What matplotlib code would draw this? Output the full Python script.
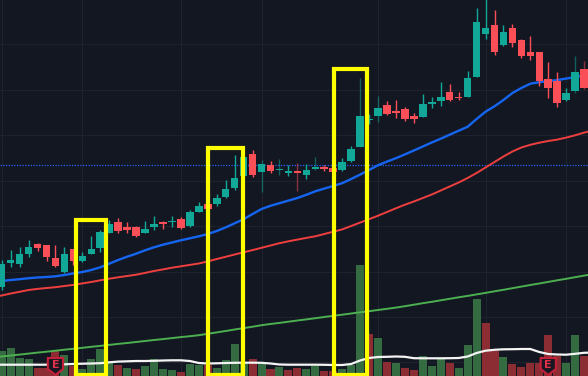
import matplotlib
matplotlib.use("Agg")
import matplotlib.pyplot as plt
import numpy as np
from matplotlib.patches import Polygon, Rectangle

opens = [287, 263.3, 264, 253.7, 244.3, 245.3, 258, 272, 249, 261, 253.7, 248.3, 232.7, 222.3, 227.3, 227, 233.3, 227.3, 222,
         221.7, 219, 226, 212, 204, 204, 197.3, 188.3, 175.7, 154, 171.7, 165, 170.3, 172.7, 171.3, 175, 169.3, 167, 168,
         170.3, 160.7, 147, 120, 116, 105, 111, 109.3, 116, 116.7, 103.7, 101, 92.3, 97, 97.3, 77, 34.3, 25.3, 45, 27.7,
         40, 52.3, 52.3, 79, 81, 100, 90.7, 69.3]
closes = [264, 260.3, 254.3, 247, 248, 257.3, 266, 253.7, 261, 256, 249, 232, 224.3, 230.7, 229.7, 235.7, 229, 224, 224,
          220.7, 228, 212, 206, 208.7, 198, 189.3, 178.3, 157.3, 175, 164.3, 170.7, 169.3, 171.3, 172.7, 170.3, 167.3, 169.3, 171.7,
          162.3, 149.3, 116, 118.5, 107.7, 114.3, 112.7, 119.3, 119.3, 104.3, 102, 97, 100, 97.7, 78, 22.3, 28.3, 52.3, 31.7, 43.3,
          56, 56, 81, 87.7, 102.7, 93, 72, 87.7]
highs = [260, 250, 246.7, 240, 243.3, 245.3, 245.3, 247.3, 249, 251.7, 235.7, 230, 220, 218.3, 222, 226.3, 220.7, 216, 220.7,
         216, 217.3, 210, 201.7, 204, 194, 180, 155, 157.3, 150, 160, 160.7, 159, 165, 163, 164.3, 157.3, 165, 168,
         158, 146, 78, 114, 96, 101, 100, 106.7, 113, 94, 97, 82, 84, 92.3, 70.7, 8, -2, 10, 25.3, 24,
         39, 36, 52.3, 62, 72, 88, 56, 61]
lows = [290, 266.7, 266.7, 256.7, 250.7, 260.7, 266.7, 273.3, 265, 262, 253.7, 251.7, 233, 233.3, 233.3, 236.7, 233.3, 230, 229.3,
        226.7, 228.7, 226.7, 212, 209, 206, 198.3, 190, 176, 176.7, 191.7, 173.3, 175, 176, 191, 178.7, 170, 170.7, 172,
        171, 161.7, 147, 124, 121.7, 115.3, 117.7, 120.7, 122.7, 116.7, 107.7, 105.7, 101, 100, 97.3, 77, 39, 55.3, 45.7, 46.7,
        58, 60, 85.7, 98.3, 107.3, 100.7, 92.7, 89.3]
dim_wicks = [29, 31, 33, 35, 40, 42, 64, 65]

vol_tops = [351, 348, 358, 359, 367.7, 368, 351, 355, 366, 369, 359, 349, 363, 365, 367.7, 369, 366.3, 359.3, 369, 369.7, 372, 364,
            365, 365, 367.7, 360, 344.3, 363, 359.3, 363.3, 369, 367, 370, 367.7, 369, 366, 371, 371, 369, 365.3, 265.3, 334,
            338.3, 362.3, 363.3, 368.3, 370, 356, 366, 358.7, 363, 367.7, 345, 298.7, 322.7, 351, 356.7, 363.7, 367, 362.7, 362.7, 335,
            356, 363, 335, 356]
vol_dirs = ("gggg" "rrr" "g" "r" "gggg" "r" "g" "r" "gggg" "r" "gg" "r" "gggg" "r" "g" "r" "g" "rr" "gg" "rr" "ggg"
            "r" "g" "r" "g" "rr" "ggg" "r" "ggg" "rr" "g" "rrrrrr" "gg" "r")

blue_ma = [281.5, 281, 280, 279.2, 278.2, 277.5, 277, 276.3, 275, 273.4, 272, 270, 267.3, 263.7, 260, 256.7, 253.7, 250.3, 247.3, 244.7,
           242.5, 240.3, 238.3, 236.3, 234, 231, 227.4, 223.3, 219.2, 214, 209, 205.8, 203.2, 200.6, 198, 194.8, 191.3, 188.6,
           186, 183.2, 179, 174.6, 170, 165.2, 161.6, 158.2, 154.4, 150.5, 146.5, 142.5, 138.7, 134.7, 130.7, 126.8, 119, 111.7, 106.3,
           100, 93, 88, 83.7, 82.2, 81.2, 80, 78.6, 77, 75.6, 74.5]
red_ma = [297, 295.5, 293.5, 291.8, 290, 288.9, 288, 287.2, 286, 284.9, 283.4, 282, 280.3, 278.7, 277.3, 276, 274.7, 272.9, 271, 269.4,
          267.7, 266.3, 264.9, 263.5, 261.4, 259, 256.8, 254.5, 252.3, 250.1, 247.8, 245.5, 243.2, 241.3, 239.6, 237.9, 236.3, 234,
          231.7, 229.4, 226, 222.6, 219.2, 215.7, 212, 208.3, 204.7, 201.5, 198, 194.5, 190.5, 186.5, 182.5, 178, 173, 167.5, 162,
          156.5, 151.5, 147.5, 144.8, 142.7, 141, 139.6, 137.6, 135.3, 132.6, 130.5]
green_ma = [357.5, 356.5, 355.5, 354.6, 353.6, 352.6, 351.7, 350.7, 349.7, 348.8, 347.8, 346.8, 345.9, 344.9, 343.9, 343, 342, 341, 340, 339.1,
            338.1, 337.1, 336.2, 335.2, 333.8, 332.4, 331, 329.5, 328.1, 326.7, 325.2, 324, 322.9, 321.7, 320.5, 319.4, 318.2, 317,
            315.8, 314.7, 313.5, 312.3, 311.2, 310, 308.8, 307.6, 306.2, 304.7, 303.2, 301.8, 300.3, 298.8, 297.3, 295.9, 294.4, 292.9, 291.3,
            289.8, 288.2, 286.6, 285, 283.5, 281.9, 280.3, 278.8, 277.2, 275.6, 274]
vol_ma = [364.7, 364.7, 364.7, 364.7, 364.7, 364.7, 364.7, 364.7, 364.3, 364, 363.7, 363.5, 363.2, 362.3, 361.6, 361.3, 361, 361, 360.8, 360.5,
          360.3, 360.3, 361, 363, 363.5, 363.3, 363, 362.8, 362.7, 362.7, 362.8, 363.5, 364.5, 364.7, 364.7, 364.7, 364.7, 364.8,
          365, 365, 364, 360.5, 358, 357, 356.8, 356.5, 356.8, 358.2, 358.3, 358.3, 358.3, 358.2, 358, 356.5, 353, 350.7, 349.8,
          349.3, 349.2, 349, 349, 352, 354, 354.5, 354.7, 353.8, 352.8, 352.5]

earnings_idx = [6, 61]
highlight_boxes = [(8.3, 11.6, 219.5), (23, 26.9, 148), (37.1, 40.8, 68.5)]

BG = "#131722"
UP = "#12a898"
DOWN = "#fb4f58"

n = len(opens)
idx = np.arange(n)
ma_idx = np.arange(-1, n + 1)

fig = plt.figure(figsize=(5.88, 3.76), dpi=100, facecolor=BG)
ax = fig.add_axes([0, 0, 1, 1], facecolor=BG)
ax.set_xlim(-1.7 / 8.96, (588 - 1.7) / 8.96)
ax.set_ylim(376, 0)
ax.axis("off")

# faint chart grid
for gx in [0, 9, 20, 29, 42, 54, 63]:
    ax.axvline(gx, color="#1f232e", lw=0.8, zorder=1)
for gy in [44, 90, 135, 181, 226, 272, 317, 362]:
    ax.axhline(gy, color="#1e222d", lw=0.8, zorder=1)
ax.axhline(165, color="#2962ff", lw=0.9, ls=(0, (1, 1.2)), zorder=2)

# volume histogram
vol_colors = ["#346b40" if d == "g" else "#8b2d33" for d in vol_dirs]
ax.bar(idx, [376 - v for v in vol_tops], bottom=vol_tops, width=0.9, color=vol_colors, zorder=3)

# moving averages
ax.plot(ma_idx, blue_ma, color="#1565f0", lw=1.7, zorder=6)
ax.plot(ma_idx, red_ma, color="#ef3f3f", lw=1.4, zorder=6)
ax.plot(ma_idx, green_ma, color="#4caf50", lw=1.4, zorder=4)
ax.plot(ma_idx, vol_ma, color="#f4f4f4", lw=1.6, zorder=5)

# candles
for i in idx:
    color = UP if closes[i] < opens[i] else DOWN
    wick_alpha = 0.5 if i in dim_wicks else 1.0
    ax.vlines(i, highs[i], lows[i], color=color, lw=1.0, alpha=wick_alpha, zorder=7)
    top, bottom = min(opens[i], closes[i]), max(opens[i], closes[i])
    ax.bar(i, bottom - top, bottom=top, width=0.84, color=color, zorder=8)

# earnings markers
for i in earnings_idx:
    w = 0.85
    shield = Polygon([(i - w, 358), (i + w, 358), (i + w, 369), (i, 375), (i - w, 369)], closed=True,
                     facecolor="#1b1722", edgecolor="#c5213a", lw=1.5, zorder=9)
    ax.add_patch(shield)
    ax.text(i, 365, "E", color="#e0304a", fontsize=8, fontweight="bold", ha="center", va="center", zorder=10)

# yellow highlight boxes
for left, right, top in highlight_boxes:
    ax.add_patch(Rectangle((left, top), right - left, 375 - top, fill=False, edgecolor="#ffff00", lw=3.0,
                           joinstyle="miter", zorder=11))

fig.savefig("out.png", dpi=100, facecolor=BG)
